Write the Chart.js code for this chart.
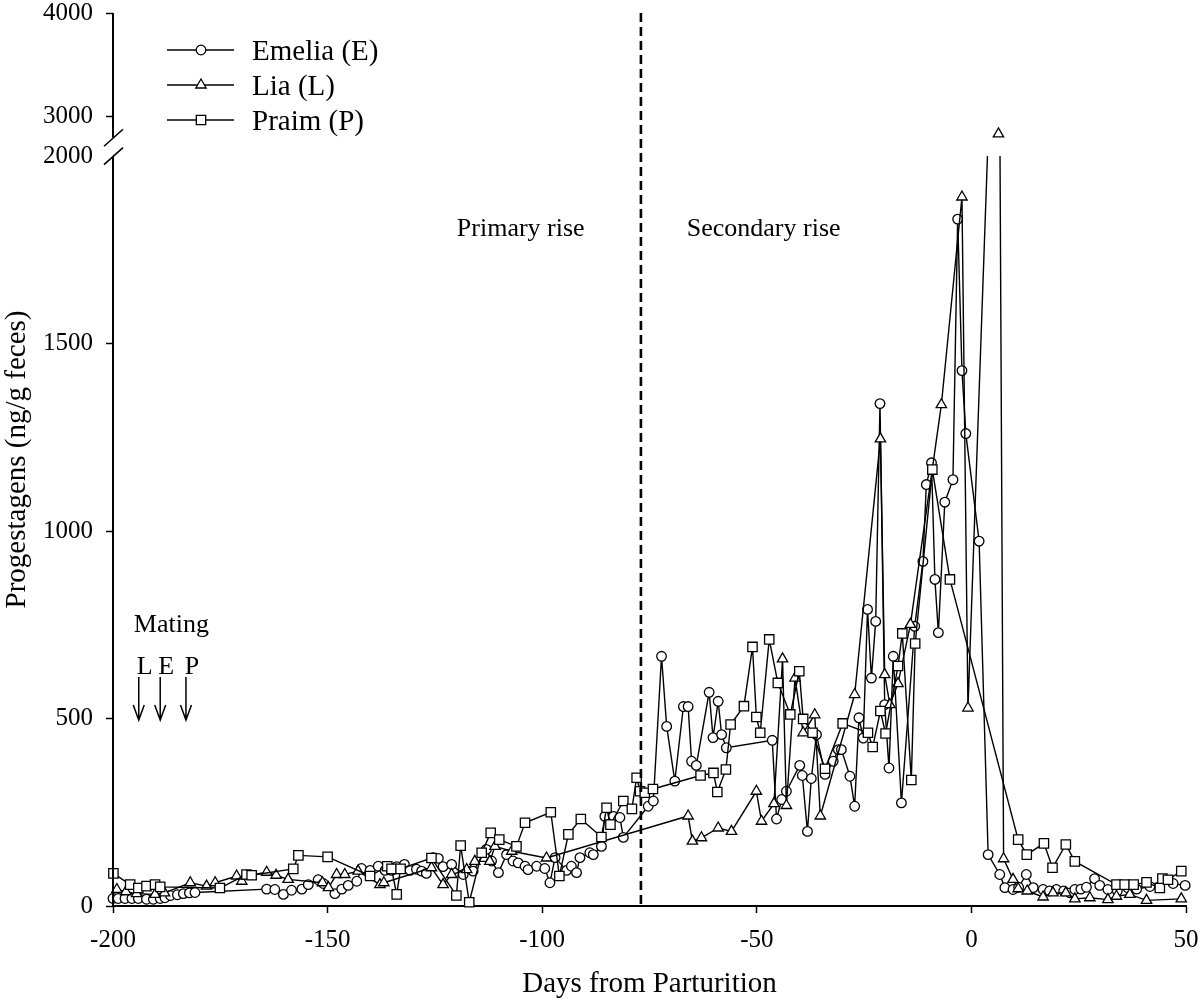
<!DOCTYPE html>
<html>
<head>
<meta charset="utf-8">
<script src="https://cdn.jsdelivr.net/npm/chart.js@4.4.1/dist/chart.umd.min.js"></script>
<style>
  html, body { margin: 0; padding: 0; background: #fff; }
  #wrap { width: 1200px; height: 1002px; }
</style>
</head>
<body>
<div id="wrap"><canvas id="myChart" width="1200" height="1002"></canvas></div>
<script>
// days from parturition / progestagens (ng/g feces)
var emeliaDays = [-200,-198.8,-197.2,-195.6,-194.1,-192.2,-190.6,-189,-187.9,-186.6,-185,-183.6,-182.2,-180.9,
  -164.2,-162.3,-160.3,-158.4,-156,-154.5,-152.2,-151,-148.3,-146.7,-145.2,-143.2,-142.1,-140.1,-138.2,-136.6,
  -135.1,-133.9,-132.1,-130.8,-129.3,-128.1,-127,-125.4,-124.2,-123.1,-121.1,-118.4,-116.1,-113,-111.8,-110.2,
  -108.3,-106.8,-105.6,-104,-103.3,-101.3,-99.4,-98.2,-97,-94.3,-93.2,-92,-91.2,-88.9,-88.1,-86.2,-85.4,-83.4,
  -81.9,-81.1,-75.3,-74.1,-72.2,-71,-69.1,-67.1,-66,-65.2,-64.1,-61.1,-60.2,-59,-58.2,-57.1,-46.4,-45.4,-44.2,
  -43.1,-40,-39.4,-38.2,-37.3,-36.1,-34.1,-32.2,-31,-30.3,-28.3,-27.2,-26.2,-25.2,-24.2,-23.3,-22.3,-21.3,-20.2,
  -19.2,-18.2,-16.3,-13.2,-11.3,-10.5,-9.3,-8.5,-7.7,-6.2,-4.3,-3.2,-2.2,-1.3,1.8,3.9,6.6,7.8,9.7,11,12.8,14.4,
  16.7,18.2,19.8,21.5,23,24.1,25.5,26.8,28.7,29.9,31.8,34,36.5,38.5,41.6,44.7,47,49.8];
var emeliaVals = [20,20,20,20,20,18,18,20,22,28,30,33,35,36,
  45,44,31,42,45,57,70,60,33,45,55,66,100,95,106,95,
  95,105,111,95,98,93,87,129,127,105,111,84,93,151,120,89,
  137,120,115,106,97,106,100,62,129,95,106,89,129,142,137,159,239,239,
  236,183,266,280,666,479,333,532,532,386,375,570,449,546,457,422,442,232,284,
  306,375,348,199,340,457,351,386,417,417,346,266,502,448,791,608,759,1340,537,
  368,666,275,746,919,1124,1182,871,729,1077,1137,1832,1428,1260,973,137,84,49,44,50,84,49,
  44,40,44,40,35,44,45,50,73,55,44,40,48,45,52,71,60,55];

var liaDays = [-199.1,-197,-194.5,-190.2,-188,-182,-178.2,-176.2,-171.2,-170,-169,-164.2,-162,-159.2,-151.2,
  -149.8,-147.9,-146,-142.9,-137.8,-136.9,-125.8,-123.1,-121.1,-117.6,-115.7,-112.2,-111,-107.1,-99,-66,-65,
  -62.9,-59,-55.9,-50.1,-48.9,-46,-44,-43.1,-41.1,-39.2,-36.5,-35.2,-27.2,-21.2,-20.2,-19,-17.1,-14.2,-7,-2.2,
  -0.8,6.3,7.5,9.7,10.9,13,16.7,19,22,24.1,27.6,31.8,33.8,36.9,40.8,48.9];
var liaVals = [44,38,33,31,35,62,53,62,80,66,80,90,82,71,62,
  49,84,84,93,57,62,102,57,84,97,119,119,159,146,128,240,173,
  182,208,199,306,226,273,659,268,608,462,510,240,564,1246,617,537,593,751,1337,1891,
  528,2830,126,71,46,40,24,35,35,19,22,17,26,31,15,19];

var praimDays = [-199.9,-196,-194.1,-192.2,-190.2,-189,-175.1,-168.9,-167.7,-158,-156.8,-150,-140.1,-136.1,
  -135.1,-133.9,-133,-125.8,-120,-119,-117,-114.1,-112,-110,-106,-104,-98,-96,-93.9,-91,-86.2,-85,-84.1,-81.1,
  -79.1,-78,-77.2,-76.1,-74.2,-63.1,-60.1,-59.2,-57.2,-56.1,-53,-51,-50.1,-49.2,-47.1,-45.1,-42.2,-40.1,-39.2,
  -37,-34.1,-30,-24.1,-23,-21.2,-20,-17.1,-16.1,-14,-13.1,-9.1,-5,10.9,12.9,16.9,18.9,22,24.1,33.8,35.7,37.8,
  40.8,43.9,44.5,45.8,48.9];
var praimVals = [87,57,48,53,57,51,48,84,82,99,135,131,80,106,
  99,31,99,128,28,161,10,142,195,177,159,222,250,80,191,232,184,262,217,280,
  259,342,306,302,312,348,355,304,364,484,533,691,504,462,711,595,511,626,499,
  462,366,487,462,424,520,460,640,727,336,700,1164,871,177,137,167,102,164,119,57,57,57,
  63,48,73,70,93];

var seriesNames = ['Emelia (E)', 'Lia (L)', 'Praim (P)'];
var yTicks = [0, 500, 1000, 1500, 2000, 3000, 4000];
var matingDays = [-194, -189, -183];
var matingLabels = ['L', 'E', 'P'];
var primaryEnd = -77;

// broken y axis: 0-2000 linear, then a squeezed piece for 3000-4000
var breakLow = 2000;
var upperRef = 3000, upperRefPos = 2106, upperRatio = 0.2757;
var upperStart = 2049;
function toAxis(v) {
  if (v <= breakLow) return v;
  return upperRefPos + (v - upperRef) * upperRatio;
}
var yTop = toAxis(4000);

var serif = "'Liberation Serif', 'Times New Roman', serif";
Chart.defaults.font.family = serif;
Chart.defaults.color = '#000';

function pts(days, vals) {
  return days.map(function (d, i) { return { x: d, y: vals[i] }; });
}

function series(label, days, vals, style, r, order) {
  return {
    label: label,
    data: pts(days, vals),
    showLine: true,
    borderColor: '#000',
    borderWidth: 1.4,
    backgroundColor: '#fff',
    pointStyle: style,
    pointRadius: function (c) { return c.raw && c.raw.y > breakLow ? 0 : r; },
    pointHoverRadius: r,
    pointBorderWidth: 1.3,
    pointBorderColor: '#000',
    pointBackgroundColor: '#fff',
    legendRadius: r,
    clip: false,
    order: order
  };
}

var liaPeak = pts(liaDays, liaVals).filter(function (p) { return p.y > breakLow; })
  .map(function (p) { return { x: p.x, y: toAxis(p.y) }; });

// lines are cut at the top of the lower axis piece, like the original
var breakClip = {
  id: 'breakClip',
  beforeDatasetDraw: function (chart, args) {
    if (args.index > 2) return;
    var y = chart.scales.y.getPixelForValue(breakLow);
    var ctx = chart.ctx;
    ctx.save();
    ctx.beginPath();
    ctx.rect(0, y, chart.width, chart.height - y);
    ctx.clip();
  },
  afterDatasetDraw: function (chart, args) {
    if (args.index > 2) return;
    chart.ctx.restore();
  }
};

var extras = {
  id: 'extras',
  afterDatasetsDraw: function (chart) {
    var ctx = chart.ctx, xs = chart.scales.x, ys = chart.scales.y, area = chart.chartArea;
    ctx.save();
    ctx.strokeStyle = '#000';
    ctx.fillStyle = '#000';

    // y axis with break marks
    var x0 = area.left;
    ctx.lineWidth = 2;
    ctx.beginPath();
    ctx.moveTo(x0, ys.getPixelForValue(0) + 1);
    ctx.lineTo(x0, ys.getPixelForValue(breakLow));
    ctx.moveTo(x0, ys.getPixelForValue(upperStart));
    ctx.lineTo(x0, ys.getPixelForValue(yTop));
    ctx.stroke();
    ctx.lineWidth = 1.6;
    ctx.beginPath();
    [breakLow, upperStart].forEach(function (v) {
      var y = ys.getPixelForValue(v);
      ctx.moveTo(x0 - 9, y + 8.5);
      ctx.lineTo(x0 + 10, y - 8.5);
    });
    ctx.stroke();

    // end of primary rise
    var xd = xs.getPixelForValue(primaryEnd);
    ctx.lineWidth = 2.6;
    ctx.setLineDash([9, 5]);
    ctx.beginPath();
    ctx.moveTo(xd, area.top);
    ctx.lineTo(xd, area.bottom);
    ctx.stroke();
    ctx.setLineDash([]);

    ctx.font = '26px ' + serif;
    ctx.textAlign = 'center';
    ctx.textBaseline = 'alphabetic';
    ctx.fillText('Primary rise', xs.getPixelForValue(-105), ys.getPixelForValue(1787));
    ctx.fillText('Secondary rise', xs.getPixelForValue(-48.4), ys.getPixelForValue(1787));
    ctx.fillText('Mating', xs.getPixelForValue(-186.4), ys.getPixelForValue(731));

    // mating arrows
    ctx.lineWidth = 1.5;
    matingDays.forEach(function (d, i) {
      var x = xs.getPixelForValue(d);
      var yT = ys.getPixelForValue(611), yB = ys.getPixelForValue(496);
      ctx.fillText(matingLabels[i], x + 6, ys.getPixelForValue(619));
      ctx.beginPath();
      ctx.moveTo(x, yT);
      ctx.lineTo(x, yB);
      ctx.moveTo(x - 5.5, yB - 15);
      ctx.lineTo(x, yB);
      ctx.lineTo(x + 5.5, yB - 15);
      ctx.stroke();
    });

    // legend
    ctx.font = '29px ' + serif;
    ctx.textAlign = 'left';
    chart.data.datasets.slice(0, 3).forEach(function (ds, i) {
      var y = area.top + 37 + i * 35;
      ctx.lineWidth = 1.4;
      ctx.beginPath();
      ctx.moveTo(area.left + 54, y);
      ctx.lineTo(area.left + 121, y);
      ctx.stroke();
      ctx.lineWidth = 1.3;
      ctx.fillStyle = '#fff';
      Chart.helpers.drawPoint(ctx, { pointStyle: ds.pointStyle, radius: ds.legendRadius, rotation: 0, borderWidth: 1.3 }, area.left + 88, y);
      ctx.fillStyle = '#000';
      ctx.fillText(seriesNames[i], area.left + 139, y + 10);
    });
    ctx.restore();
  }
};

var ctx = document.getElementById('myChart').getContext('2d');
var myChart = new Chart(ctx, {
  type: 'scatter',
  data: {
    datasets: [
      series(seriesNames[0], emeliaDays, emeliaVals, 'circle', 4.8, 3),
      series(seriesNames[1], liaDays, liaVals, 'triangle', 6, 2),
      series(seriesNames[2], praimDays, praimVals, 'rect', 6.6, 1),
      {
        label: 'Lia peak',
        data: liaPeak,
        showLine: false,
        pointStyle: 'triangle',
        pointRadius: 6,
        pointBorderWidth: 1.3,
        pointBorderColor: '#000',
        pointBackgroundColor: '#fff',
        clip: false,
        order: 0
      }
    ]
  },
  options: {
    responsive: false,
    animation: false,
    devicePixelRatio: 1,
    layout: { padding: 0 },
    plugins: { legend: { display: false }, tooltip: { enabled: false } },
    scales: {
      x: {
        type: 'linear',
        min: -200,
        max: 50,
        afterFit: function (s) { s.height = 96; s.paddingRight = 14; },
        ticks: { stepSize: 50, padding: 12, font: { size: 25 }, color: '#000' },
        grid: { drawOnChartArea: false, tickLength: 7, tickWidth: 1.5, tickColor: '#000' },
        border: { display: true, color: '#000', width: 2 },
        title: { display: true, text: 'Days from Parturition', font: { size: 29 }, color: '#000', padding: { top: 0, bottom: 0 } }
      },
      y: {
        type: 'linear',
        min: 0,
        max: yTop,
        afterFit: function (s) { s.width = 113; s.paddingTop = 13; },
        afterBuildTicks: function (s) {
          s.ticks = yTicks.map(function (v) { return { value: toAxis(v) }; });
        },
        ticks: {
          autoSkip: false,
          padding: 13,
          font: { size: 25 },
          color: '#000',
          callback: function (v, i) { return yTicks[i]; }
        },
        grid: {
          drawOnChartArea: false,
          tickLength: 7,
          tickWidth: 1.5,
          tickColor: function (c) { return c.tick && c.tick.value === breakLow ? 'rgba(0,0,0,0)' : '#000'; }
        },
        border: { display: false },
        title: { display: true, text: 'Progestagens (ng/g feces)', font: { size: 29 }, color: '#000', padding: { top: 0, bottom: 0 } }
      }
    }
  },
  plugins: [breakClip, extras]
});
</script>
</body>
</html>
